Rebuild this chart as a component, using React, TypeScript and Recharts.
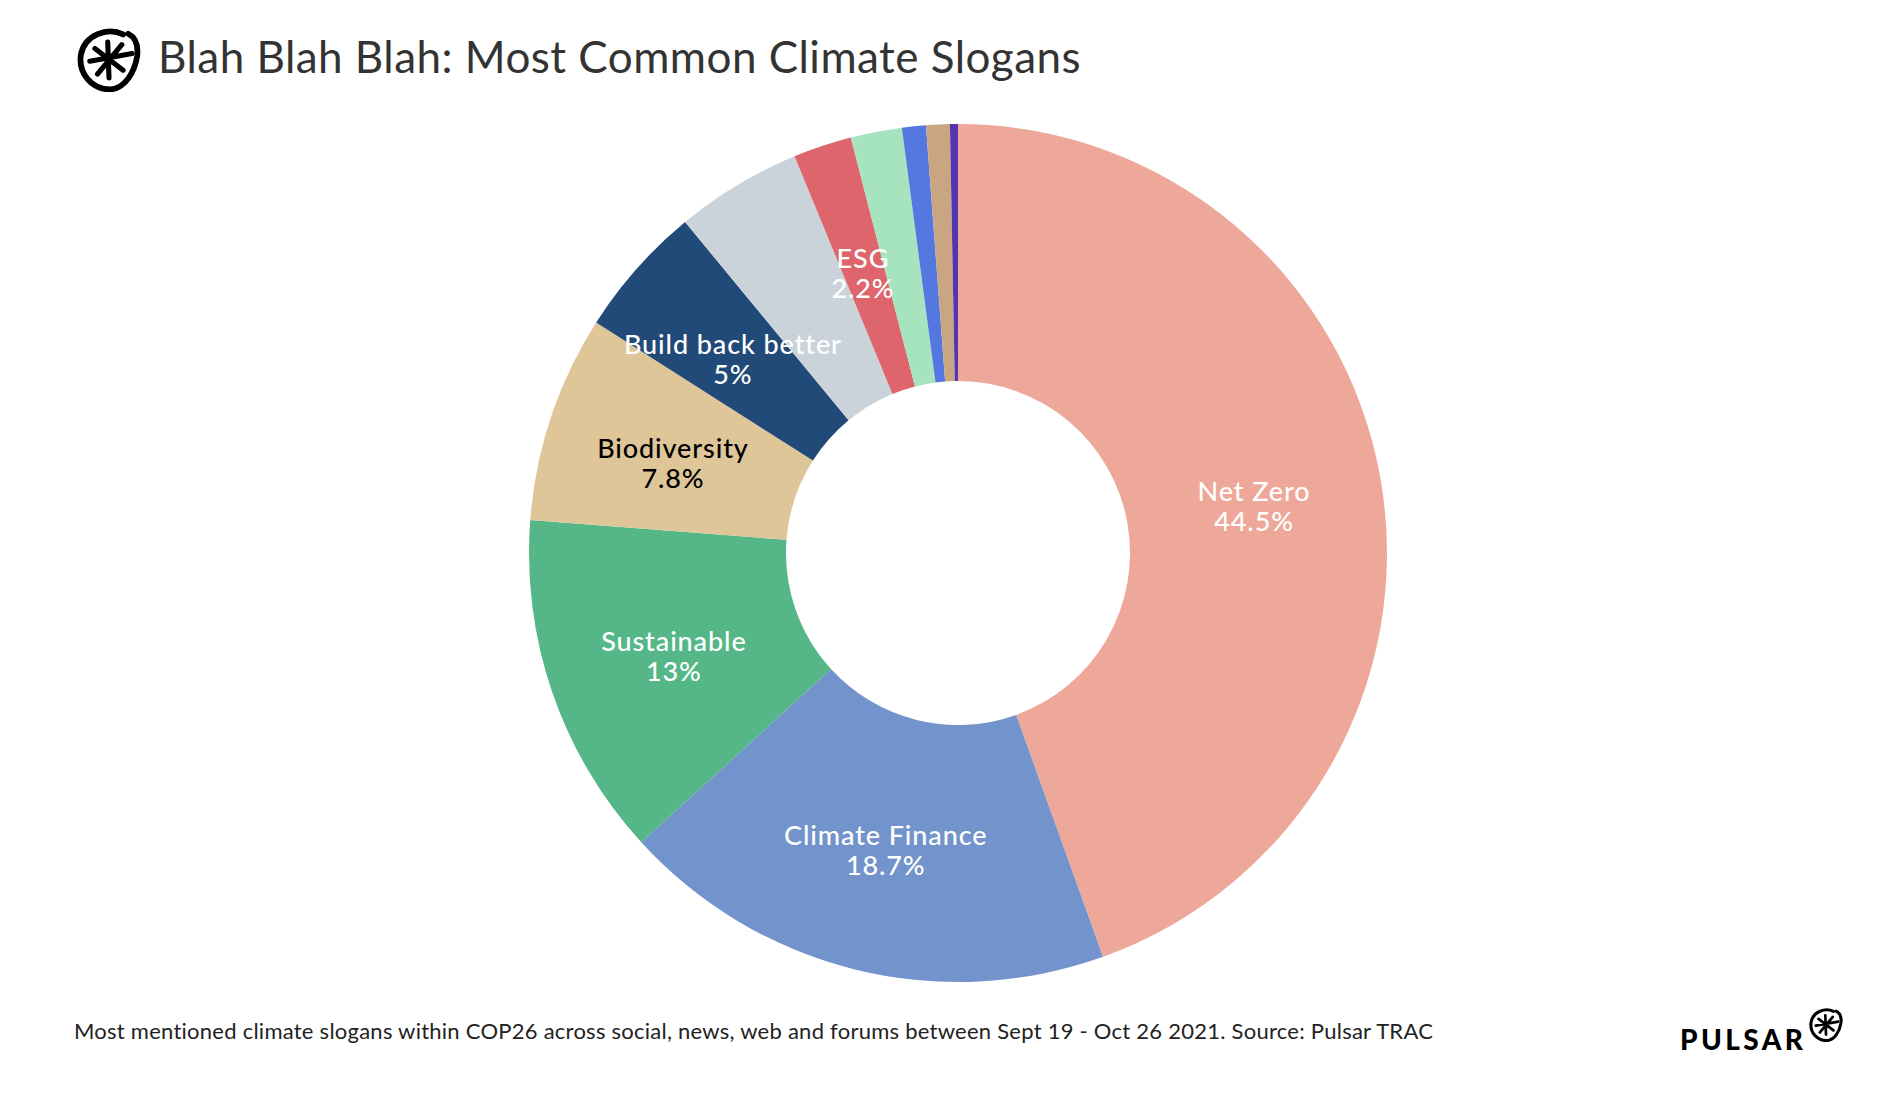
import { PieChart, Pie, Cell } from 'recharts';

// slices without a name carry no label in the original
const categories = ['Net Zero', 'Climate Finance', 'Sustainable', 'Biodiversity', 'Build back better', '', 'ESG', '', '', '', ''];
const shares = [44.5, 18.7, 13, 7.8, 5, 4.75, 2.2, 1.93, 0.9, 0.89, 0.3];

const sliceColors = ['#EDA899', '#7393CC', '#55B787', '#DFC699', '#224A78', '#CBD3DA', '#DD656B', '#A6E3BF', '#5578E0', '#C9A582', '#5534B0'];
const font = 'Lato, sans-serif';

const chartData = shares.map((share, i) => ({ name: categories[i], share }));

const RADIAN = Math.PI / 180;

const SliceLabel = ({ cx, cy, midAngle, innerRadius, outerRadius, name, value }: any) => {
  if (!name) return null;
  const r = (innerRadius + outerRadius) / 2;
  const x = cx + r * Math.cos(-midAngle * RADIAN);
  const y = cy + r * Math.sin(-midAngle * RADIAN);
  const fill = name === 'Biodiversity' ? '#000000' : '#ffffff';
  return (
    <text x={x} y={y} textAnchor="middle" fill={fill} fontFamily={font} fontSize={27} fontWeight={500} letterSpacing={0.9}>
      <tspan x={x} y={y}>{name}</tspan>
      <tspan x={x} y={y + 30}>{`${value}%`}</tspan>
    </text>
  );
};

const Logo = ({ x, y, size }: { x: number; y: number; size: number }) => (
  <svg style={{ position: 'absolute', left: x, top: y }} width={size} height={size} viewBox="0 0 100 100">
    <g fill="none" stroke="#000" strokeLinecap="round">
      <path d="M72 10 C48 -2 12 10 6 42 C2 70 22 96 52 96 C76 94 90 68 94 44 C96 26 90 14 80 9" strokeWidth={9} />
      <path d="M48 22 L50 78 M28 32 L72 66 M70 26 L32 72 M20 52 L86 40" strokeWidth={8} />
    </g>
  </svg>
);

export default function App() {
  return (
    <div style={{ position: 'absolute', left: 0, top: 0, width: 1898, height: 1104, background: '#fff', overflow: 'hidden', fontFamily: font }}>
      <Logo x={77} y={28} size={64} />
      <div style={{ position: 'absolute', left: 158, top: 31, fontSize: 44, lineHeight: '50px', color: '#333', letterSpacing: 0.47, whiteSpace: 'nowrap' }}>
        Blah Blah Blah: Most Common Climate Slogans
      </div>
      <PieChart width={1898} height={1104} margin={{ top: 0, right: 0, bottom: 0, left: 0 }}>
        <Pie
          data={chartData}
          dataKey="share"
          nameKey="name"
          cx={958}
          cy={553}
          innerRadius={172}
          outerRadius={429}
          startAngle={90}
          endAngle={-270}
          stroke="none"
          label={SliceLabel}
          labelLine={false}
          isAnimationActive={false}
        >
          {chartData.map((_, i) => (
            <Cell key={i} fill={sliceColors[i]} />
          ))}
        </Pie>
      </PieChart>
      <div style={{ position: 'absolute', left: 74, top: 1018, fontSize: 22, lineHeight: '26px', color: '#222', letterSpacing: 0.25, whiteSpace: 'nowrap' }}>
        Most mentioned climate slogans within COP26 across social, news, web and forums between Sept 19 - Oct 26 2021. Source: Pulsar TRAC
      </div>
      <div style={{ position: 'absolute', left: 1680, top: 1022, fontSize: 28, lineHeight: '34px', fontWeight: 900, color: '#000', letterSpacing: 3.4, whiteSpace: 'nowrap' }}>
        PULSAR
      </div>
      <Logo x={1809} y={1008} size={34} />
    </div>
  );
}
